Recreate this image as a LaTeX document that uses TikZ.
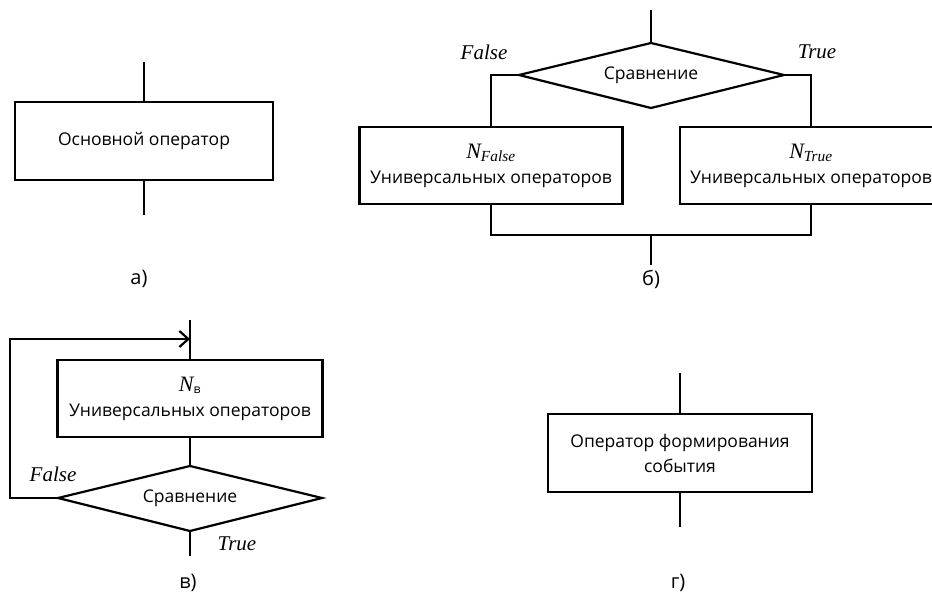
\documentclass[tikz,border=0pt]{standalone}
\usepackage{fontspec}
\setmainfont{Open Sans}
\newfontfamily\itfont{Liberation Serif}
\usetikzlibrary{arrows.meta}
\newcommand{\Nsub}[1]{{\fontsize{22}{24}\itfont\itshape N\textsubscript{#1}}}
\begin{document}
\begin{tikzpicture}[x=1pt,y=-1pt,line width=2.2pt,
  box/.style={draw,rectangle,inner sep=0pt,align=center,font=\fontsize{17.5}{25}\selectfont},
  dtext/.style={inner sep=0pt,font=\fontsize{17.5}{23}\selectfont},
  lab/.style={font=\fontsize{20}{24}\selectfont},
  tf/.style={font=\fontsize{21}{25}\itfont\itshape}]
\useasboundingbox (0,0) rectangle (932,601);
% panel a
\node[box,minimum width=258pt,minimum height=78pt] (a) at (144,141) {Основной оператор};
\coordinate (a1) at (144,62);
\coordinate (a2) at (144,215);
\draw (a1) -- (a.north);
\draw (a.south) -- (a2);
\node[lab] (la) at (139,279) {а)};
% panel b
\node[dtext] (d) at (651,75) {Сравнение};
\coordinate (dn) at (651,43);
\coordinate (dw) at (519,75);
\coordinate (de) at (784,75);
\coordinate (ds) at (651,108);
\draw[line join=miter] (dn) -- (de) -- (ds) -- (dw) -- cycle;
\coordinate (b1) at (651,10);
\draw (b1) -- (dn);
\node[box,minimum width=263pt,minimum height=77pt] (bf) at (491,165.5) {\Nsub{False}\\Универсальных операторов};
\node[box,minimum width=262pt,minimum height=77pt] (bt) at (811,165.5) {\Nsub{True}\\Универсальных операторов};
\draw (dw) -| (bf.north);
\draw (de) -| (bt.north);
\coordinate (bm) at (651,235);
\coordinate (b2) at (651,265);
\draw (bf.south) |- (bm) -| (bt.south);
\draw (bm) -- (b2);
\node[tf] (fl) at (484,52) {False};
\node[tf] (tl) at (817,52) {True};
\node[lab] (lb) at (651,279) {б)};
% panel v
\node[box,minimum width=265pt,minimum height=77pt] (v) at (190,398.5) {{\fontsize{22}{24}\itfont\itshape N}\textsubscript{в}\\Универсальных операторов};
\coordinate (v1) at (190,320);
\coordinate (va) at (190,339);
\draw (v1) -- (v.north);
\node[dtext] (vd) at (190,498) {Сравнение};
\coordinate (vn) at (190,466);
\coordinate (vw) at (58,498);
\coordinate (ve) at (322,498);
\coordinate (vs) at (190,531);
\draw[line join=miter] (vn) -- (ve) -- (vs) -- (vw) -- cycle;
\draw (v.south) -- (vn);
\coordinate (v2) at (190,556);
\draw (vs) -- (v2);
\coordinate (vl) at (10,498);
\draw[-{Straight Barb[length=9pt,width=16pt,line width=2.2pt]}] (vw) -- (vl) |- (va);
\node[tf] (vfl) at (53,474) {False};
\node[tf] (vtl) at (237,544) {True};
\node[lab] (lv) at (188,583) {в)};
% panel g
\node[box,minimum width=264pt,minimum height=78pt] (g) at (680,453) {Оператор формирования\\события};
\coordinate (g1) at (680,373);
\coordinate (g2) at (680,527);
\draw (g1) -- (g.north);
\draw (g.south) -- (g2);
\node[lab] (lg) at (678,583) {г)};
\end{tikzpicture}
\end{document}
